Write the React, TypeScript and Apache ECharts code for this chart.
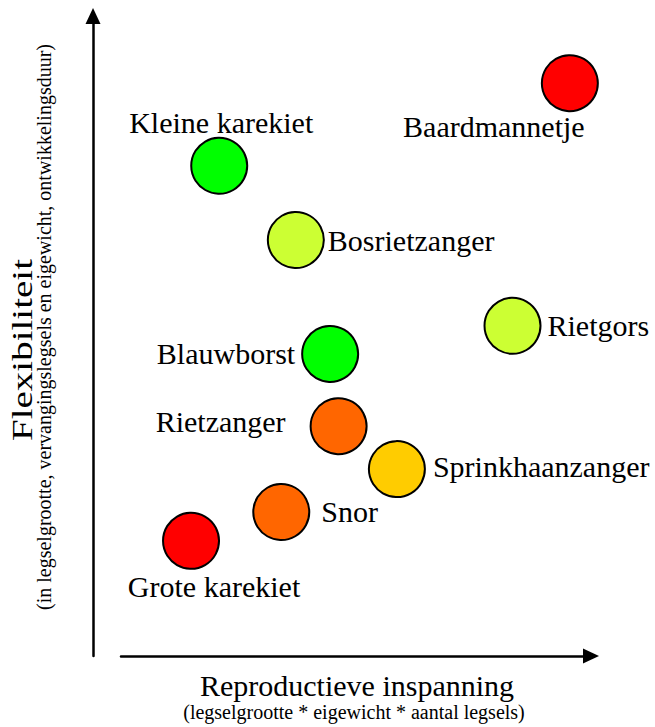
import React, { useEffect, useRef } from "react";
import * as echarts from "echarts";

const speciesNames = [
  "Baardmannetje",
  "Kleine karekiet",
  "Bosrietzanger",
  "Rietgors",
  "Blauwborst",
  "Rietzanger",
  "Sprinkhaanzanger",
  "Snor",
  "Grote karekiet",
];
const reproductiveEffort = [95.5, 20.9, 37.2, 83.3, 44.5, 46.3, 58.7, 34.1, 14.9];
const flexibility = [89.5, 76.6, 65.0, 51.6, 47.2, 35.9, 29.2, 22.5, 18.0];
const pointColors = ["#ff0000", "#00ff00", "#ccff33", "#ccff33", "#00ff00", "#ff6600", "#ffcc00", "#ff6600", "#ff0000"];

const xTitle = "Reproductieve inspanning";
const xSubtitle = "(legselgrootte * eigewicht * aantal legsels)";
const yTitle = "Flexibiliteit";
const ySubtitle = "(in legselgrootte, vervangingslegsels en eigewicht, ontwikkelingsduur)";

// label placement relative to the point: [align, dx, dy]
const labelPlacement: [string, number, number][] = [
  ["center", -76, 43],
  ["center", 2, -43],
  ["left", 32, 0],
  ["left", 35, 0],
  ["right", -35, 0],
  ["right", -53, -5],
  ["left", 36, -3],
  ["left", 40, -1],
  ["center", 23, 46],
];

const FONT = "'Liberation Serif', 'Times New Roman', serif";

export default function App() {
  const ref = useRef<HTMLDivElement>(null);
  useEffect(() => {
    if (!ref.current) return;
    const chart = echarts.init(ref.current, null, { renderer: "svg" });
    const axisCommon = {
      type: "value",
      min: 0,
      max: 100,
      axisTick: { show: false },
      axisLabel: { show: false },
      splitLine: { show: false },
      axisLine: {
        show: true,
        onZero: false,
        symbol: ["none", "triangle"],
        symbolSize: [15, 16],
        lineStyle: { color: "#000", width: 2.5 },
      },
    };
    const points = speciesNames.map((name, i) => [reproductiveEffort[i], flexibility[i], name]);
    chart.setOption({
      animation: false,
      backgroundColor: "#fff",
      grid: { left: 121, top: 16, width: 470, height: 640, containLabel: false },
      xAxis: { ...axisCommon },
      yAxis: { ...axisCommon, offset: 28 },
      series: [
        {
          type: "scatter",
          symbol: "circle",
          symbolSize: 56,
          emphasis: { disabled: true },
          data: points.map((p, i) => ({
            name: speciesNames[i],
            value: p,
            itemStyle: { color: pointColors[i], borderColor: "#000", borderWidth: 2, opacity: 1 },
          })),
        },
        {
          type: "custom",
          data: points,
          silent: true,
          renderItem: (params: any, api: any) => {
            const i = params.dataIndex;
            const c = api.coord([api.value(0), api.value(1)]);
            const [align, dx, dy] = labelPlacement[i];
            return {
              type: "text",
              x: c[0] + dx,
              y: c[1] + dy,
              style: {
                text: speciesNames[i],
                font: `30px ${FONT}`,
                fill: "#000",
                align,
                verticalAlign: "middle",
              },
            };
          },
        },
      ],
      graphic: [
        {
          type: "text",
          x: 357,
          y: 685,
          style: { text: xTitle, font: `30px ${FONT}`, fill: "#000", align: "center", verticalAlign: "middle" },
        },
        {
          type: "text",
          x: 354,
          y: 712,
          style: { text: xSubtitle, font: `20px ${FONT}`, fill: "#000", align: "center", verticalAlign: "middle" },
        },
        {
          type: "text",
          x: 22,
          y: 350,
          rotation: Math.PI / 2,
          scaleX: 1.3,
          style: { text: yTitle, font: `30px ${FONT}`, fill: "#000", align: "center", verticalAlign: "middle" },
        },
        {
          type: "text",
          x: 44,
          y: 327,
          rotation: Math.PI / 2,
          style: { text: ySubtitle, font: `20px ${FONT}`, fill: "#000", align: "center", verticalAlign: "middle" },
        },
      ],
    });
    return () => chart.dispose();
  }, []);
  return <div ref={ref} style={{ position: "absolute", left: 0, top: 0, width: 655, height: 727 }} />;
}
